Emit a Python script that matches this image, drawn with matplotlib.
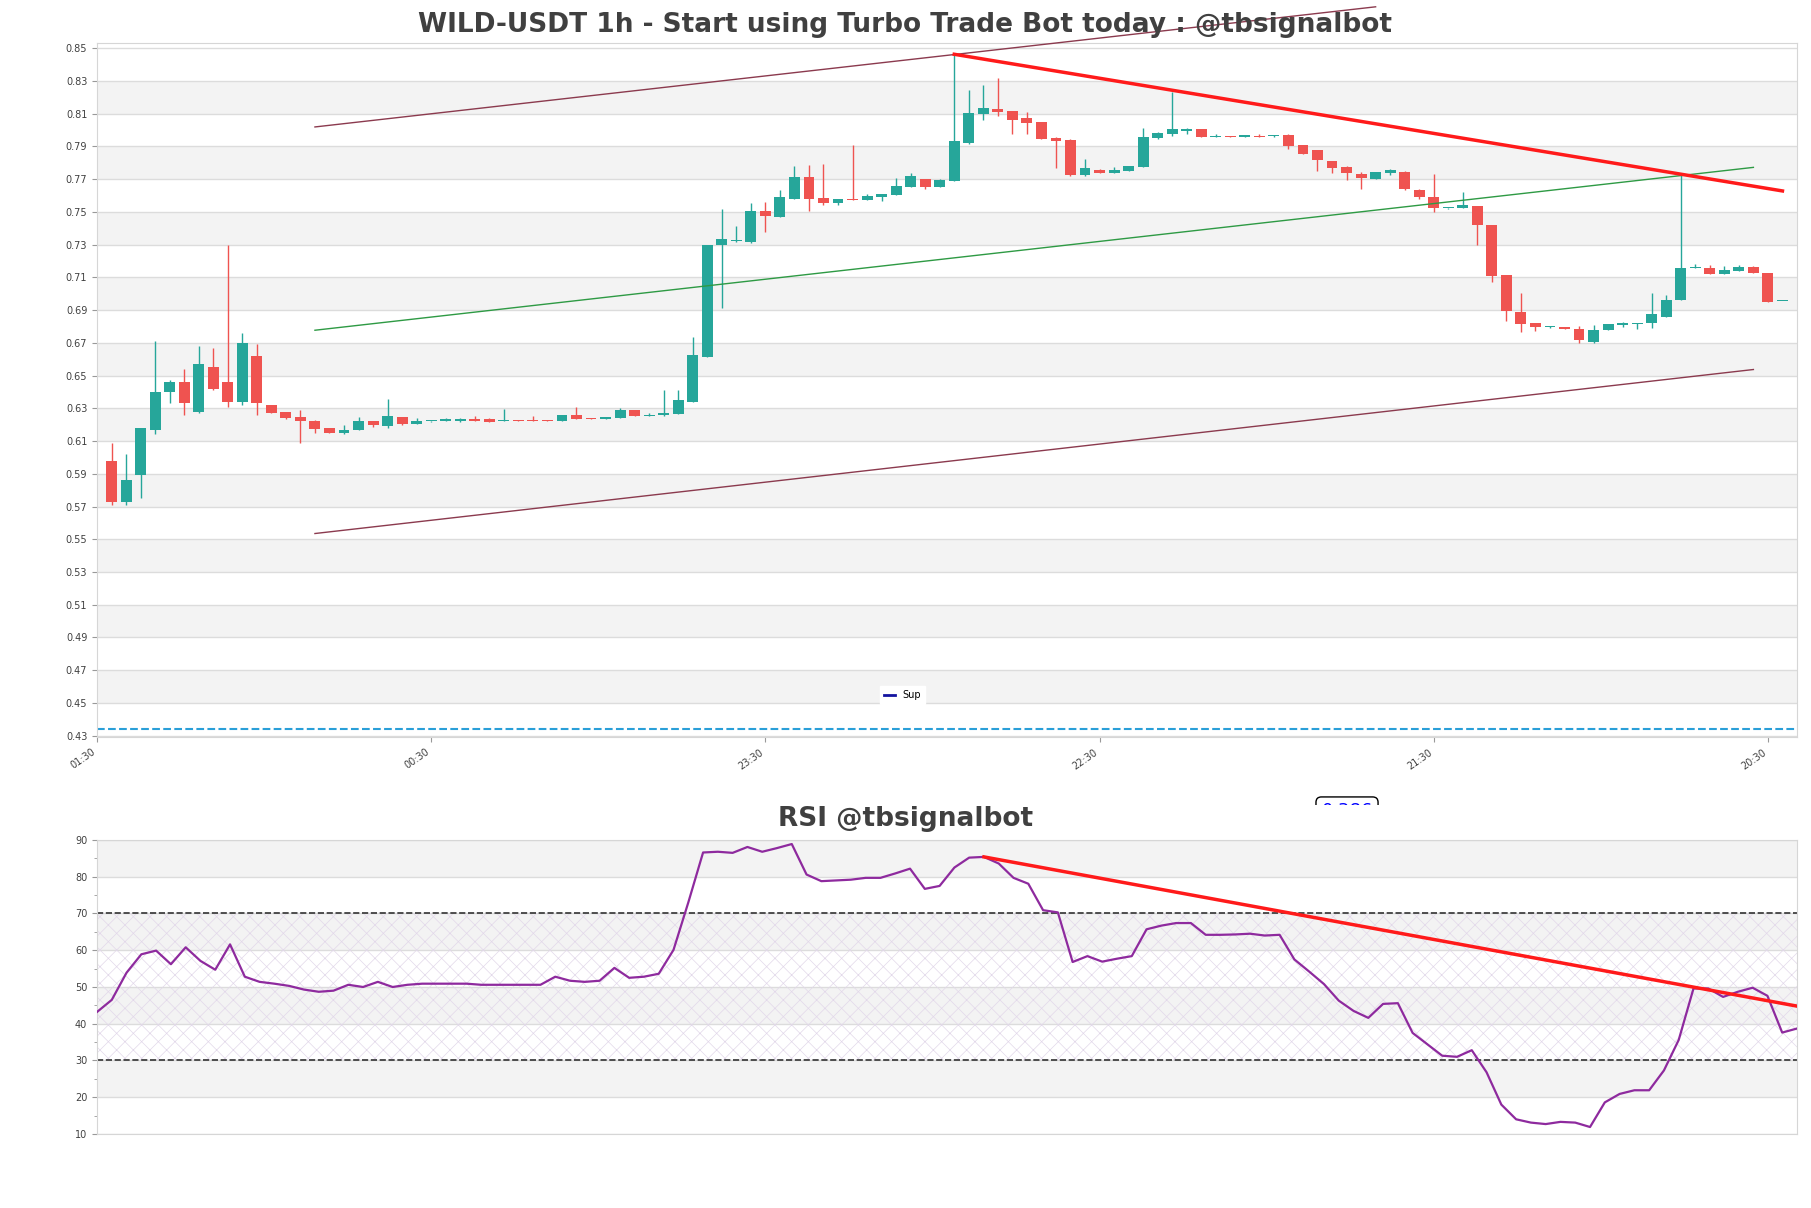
import numpy as np
import matplotlib.pyplot as plt
from matplotlib.transforms import Bbox, TransformedBbox

# 1h candles, oldest first
opens = [0.598, 0.573, 0.589, 0.617, 0.640, 0.646, 0.6275, 0.655, 0.646, 0.634,
         0.662, 0.632, 0.6275, 0.6245, 0.6225, 0.618, 0.615, 0.6165, 0.622, 0.619,
         0.6245, 0.6205, 0.622, 0.6222, 0.6224, 0.6232, 0.6232, 0.622, 0.6226, 0.6226,
         0.6229, 0.6225, 0.626, 0.6241, 0.6237, 0.6241, 0.6292, 0.6254, 0.626, 0.6266,
         0.6341, 0.6616, 0.7299, 0.7324, 0.7318, 0.7505, 0.7468, 0.758, 0.7714, 0.7582,
         0.7555, 0.7578, 0.7574, 0.7594, 0.7604, 0.7655, 0.770, 0.7653, 0.769, 0.792,
         0.8099, 0.8127, 0.8115, 0.8072, 0.8048, 0.7952, 0.7938, 0.7726, 0.7759, 0.7737,
         0.7751, 0.7775, 0.7952, 0.7975, 0.7995, 0.8005, 0.7958, 0.7966, 0.7958, 0.7962,
         0.7962, 0.7968, 0.7907, 0.7877, 0.781, 0.7775, 0.7732, 0.7702, 0.7737, 0.7745,
         0.7635, 0.7592, 0.7521, 0.7521, 0.7537, 0.7421, 0.7116, 0.689, 0.6819, 0.6795,
         0.6799, 0.6787, 0.6703, 0.6777, 0.6811, 0.6813, 0.6819, 0.6856, 0.696, 0.7159,
         0.7159, 0.7118, 0.7139, 0.7165, 0.7128, 0.6955]
highs = [0.609, 0.602, 0.618, 0.671, 0.647, 0.654, 0.668, 0.667, 0.730, 0.676,
         0.669, 0.632, 0.6275, 0.629, 0.623, 0.618, 0.620, 0.6245, 0.622, 0.6355,
         0.6245, 0.624, 0.6225, 0.6239, 0.6241, 0.6255, 0.6239, 0.6293, 0.6226, 0.6251,
         0.6229, 0.626, 0.631, 0.6241, 0.6247, 0.6302, 0.6292, 0.6272, 0.6412, 0.6412,
         0.6734, 0.730, 0.7517, 0.7413, 0.7553, 0.756, 0.7633, 0.7779, 0.7785, 0.7791,
         0.7578, 0.7907, 0.7608, 0.761, 0.7708, 0.7735, 0.770, 0.770, 0.8463, 0.8245,
         0.8274, 0.8316, 0.8115, 0.8111, 0.805, 0.7958, 0.7948, 0.7822, 0.7765, 0.7773,
         0.7779, 0.8011, 0.7991, 0.8235, 0.8015, 0.8005, 0.7975, 0.7966, 0.7968, 0.7974,
         0.7968, 0.7974, 0.7907, 0.7877, 0.781, 0.7781, 0.7742, 0.7746, 0.7761, 0.7749,
         0.7641, 0.7733, 0.7525, 0.7621, 0.7537, 0.7421, 0.7116, 0.7004, 0.6819, 0.6805,
         0.6799, 0.6805, 0.6807, 0.6813, 0.6825, 0.6823, 0.7004, 0.699, 0.7731, 0.7183,
         0.7177, 0.7171, 0.7175, 0.7171, 0.7128, 0.6955]
lows = [0.571, 0.571, 0.5755, 0.614, 0.633, 0.626, 0.627, 0.641, 0.631, 0.632,
        0.626, 0.627, 0.6235, 0.609, 0.615, 0.615, 0.6145, 0.6165, 0.6185, 0.618,
        0.620, 0.6205, 0.6215, 0.6222, 0.6216, 0.622, 0.6216, 0.622, 0.622, 0.622,
        0.6222, 0.6222, 0.6235, 0.6237, 0.6237, 0.6241, 0.6254, 0.6254, 0.6256, 0.6266,
        0.6341, 0.6616, 0.6911, 0.7318, 0.7310, 0.7379, 0.7468, 0.758, 0.7507, 0.7543,
        0.7543, 0.7572, 0.7574, 0.7568, 0.7604, 0.7655, 0.7639, 0.7653, 0.769, 0.7912,
        0.8062, 0.8086, 0.7975, 0.7975, 0.7946, 0.7769, 0.7722, 0.7722, 0.7739, 0.7737,
        0.7751, 0.7775, 0.7948, 0.7964, 0.7977, 0.7958, 0.7958, 0.7958, 0.7958, 0.7958,
        0.7956, 0.7883, 0.7855, 0.7751, 0.7739, 0.7696, 0.7639, 0.7698, 0.7727, 0.7633,
        0.7578, 0.7499, 0.7519, 0.7521, 0.7295, 0.7069, 0.6831, 0.6764, 0.677, 0.6791,
        0.6783, 0.6697, 0.6699, 0.6777, 0.6797, 0.6783, 0.6789, 0.6856, 0.696, 0.7159,
        0.7118, 0.7118, 0.7139, 0.7124, 0.6947, 0.6955]
closes = [0.573, 0.586, 0.618, 0.640, 0.646, 0.633, 0.657, 0.642, 0.634, 0.670,
          0.633, 0.627, 0.624, 0.622, 0.6175, 0.615, 0.617, 0.622, 0.620, 0.625,
          0.6205, 0.6225, 0.6225, 0.6232, 0.6232, 0.622, 0.6216, 0.6226, 0.622, 0.622,
          0.6225, 0.626, 0.6235, 0.6237, 0.6247, 0.629, 0.6254, 0.626, 0.627, 0.6351,
          0.6626, 0.7297, 0.7334, 0.733, 0.7505, 0.7476, 0.759, 0.7714, 0.758, 0.7555,
          0.7576, 0.7572, 0.7596, 0.761, 0.7657, 0.7718, 0.7653, 0.7694, 0.7932, 0.8103,
          0.8133, 0.8111, 0.8062, 0.8042, 0.7946, 0.7934, 0.7724, 0.7767, 0.7739, 0.7759,
          0.7779, 0.7956, 0.7979, 0.8005, 0.8005, 0.7958, 0.7962, 0.7958, 0.7968, 0.7958,
          0.7968, 0.7903, 0.7855, 0.7818, 0.7771, 0.7739, 0.771, 0.7746, 0.7757, 0.7637,
          0.7588, 0.7521, 0.7525, 0.7543, 0.7417, 0.711, 0.6892, 0.6815, 0.6797, 0.6799,
          0.6783, 0.6715, 0.6781, 0.6813, 0.6819, 0.6823, 0.6874, 0.6964, 0.7159, 0.7161,
          0.7118, 0.7147, 0.7165, 0.7124, 0.6947, 0.6955]

rsi = [43.2, 46.5, 53.9, 58.9, 59.9, 56.2, 60.8, 57.1, 54.7, 61.6,
       52.8, 51.4, 50.9, 50.3, 49.3, 48.7, 49.0, 50.6, 50.0, 51.4,
       50.0, 50.6, 50.9, 50.9, 50.9, 50.9, 50.6, 50.6, 50.6, 50.6,
       50.6, 52.8, 51.7, 51.4, 51.7, 55.2, 52.5, 52.8, 53.6, 60.1,
       73.0, 86.6, 86.8, 86.5, 88.1, 86.8, 87.8, 88.9, 80.6, 78.8,
       79.0, 79.2, 79.7, 79.7, 80.9, 82.2, 76.7, 77.5, 82.5, 85.2,
       85.4, 83.6, 79.7, 78.1, 70.9, 70.3, 56.8, 58.4, 56.9, 57.7,
       58.4, 65.7, 66.7, 67.4, 67.4, 64.2, 64.2, 64.3, 64.5, 64.0,
       64.2, 57.5, 54.2, 50.8, 46.3, 43.5, 41.6, 45.4, 45.6, 37.5,
       34.4, 31.3, 31.0, 32.8, 26.8, 18.0, 14.0, 13.1, 12.7, 13.3,
       13.1, 11.9, 18.6, 20.9, 21.9, 21.9, 27.3, 35.6, 49.6, 49.6,
       47.3, 48.7, 49.8, 47.6, 37.6, 38.7]

time_labels = ['01:30', '00:30', '23:30', '22:30', '21:30', '20:30']
sup_level = 0.4342
channel_top_x = [15, 88]
channel_top = [0.8019, 0.8753]
channel_x = [15, 114]
channel_mid = [0.6777, 0.7772]
channel_bot = [0.5535, 0.6537]
trend_x = [59, 116]
trend_y = [0.8463, 0.7628]
rsi_trend_x = [60, 115]
rsi_trend_y = [85.4, 44.8]
label_value = '0.386'

GREEN = '#26a69a'
RED = '#ef5350'
BAND = '#f3f3f3'
TXT = '#404040'

fig = plt.figure(figsize=(18.11, 12.08), dpi=100)
ax = fig.add_axes([0.05356, 0.38965, 0.9387, 0.5745])
ax2 = fig.add_axes([0.05356, 0.06126, 0.9387, 0.24338])

# ---- price panel
o = np.array(opens); h = np.array(highs); l = np.array(lows); c = np.array(closes)
x = np.arange(1, len(o) + 1)
cols = np.where(c >= o, GREEN, RED)
for y0 in np.arange(0.45, 0.84, 0.04):
    ax.axhspan(y0, y0 + 0.02, color=BAND, zorder=0, lw=0)
ax.vlines(x, l, h, colors=cols, lw=1.0, zorder=3)
body = np.maximum(np.abs(c - o), 0.0006)
ax.bar(x, body, 0.75, bottom=np.minimum(o, c), color=cols, zorder=4, lw=0)

ax.axhline(sup_level, color='#2a9fd8', ls='--', lw=1.5, zorder=2)
ax.plot([], [], color='#1414a0', lw=2, label='Sup')
ax.plot(channel_top_x, channel_top, color='#8b3a4e', lw=1, clip_on=False, zorder=5)
ax.plot(channel_x, channel_mid, color='#2e9a44', lw=1, clip_on=False, zorder=5)
ax.plot(channel_x, channel_bot, color='#8b3a4e', lw=1, clip_on=False, zorder=5)
ax.plot(trend_x, trend_y, color='#ff1a1a', lw=2.5, zorder=6)

ax.set_xlim(0, len(o) + 1)
ax.set_ylim(0.429, 0.853)
ax.set_yticks(np.arange(0.43, 0.8501, 0.02))
ax.yaxis.set_major_formatter(plt.FormatStrFormatter('%.2f'))
ax.set_xticks(np.arange(0, len(o), 23))
ax.set_xticklabels(time_labels, rotation=35, ha='right')
ax.grid(axis='y', color='#dcdcdc', lw=1)
ax.set_axisbelow(True)
leg = ax.legend(loc='lower left', bbox_to_anchor=(0.4606, 0.048), fontsize=7,
                handlelength=1.1, borderaxespad=0, framealpha=1, fancybox=False)
leg.get_frame().set_edgecolor('white')

# ---- RSI panel
xr = np.arange(len(rsi))
for y0 in (20, 40, 60, 80):
    ax2.axhspan(y0, y0 + 10, color=BAND, zorder=0, lw=0)
plt.rcParams['hatch.linewidth'] = 0.5
ax2.fill_between([0, len(rsi) - 1], 30, 70, facecolor='none', hatch='xx',
                 edgecolor='#e2d8ea', lw=0, zorder=1)
ax2.axhline(70, color='#333333', ls='--', lw=1.2, zorder=2)
ax2.axhline(30, color='#333333', ls='--', lw=1.2, zorder=2)
ax2.plot(xr, rsi, color='#8e2a9e', lw=1.6, zorder=4)
ax2.plot(rsi_trend_x, rsi_trend_y, color='#ff1a1a', lw=2.5, zorder=5)
ax2.set_xlim(0, len(rsi) - 1)
ax2.set_ylim(10, 90)
ax2.set_yticks(np.arange(10, 91, 10))
ax2.set_yticks(np.arange(15, 90, 10), minor=True)
ax2.set_xticks([])
ax2.grid(axis='y', color='#dcdcdc', lw=1)
ax2.set_axisbelow(True)

for a in (ax, ax2):
    for s in a.spines.values():
        s.set_color('#d6d6d6')
    a.tick_params(labelsize=7, labelcolor=TXT, color='#999999')
ax2.tick_params(which='minor', color='#999999', length=2)

fig.text(0.5, 0.979, 'WILD-USDT 1h - Start using Turbo Trade Bot today : @tbsignalbot',
         ha='center', va='center', fontsize=19, fontweight='bold', color=TXT)
fig.text(0.5, 0.322, 'RSI @tbsignalbot', ha='center', va='center',
         fontsize=19, fontweight='bold', color=TXT)

tag = fig.text(0.7438, 0.3358, label_value, ha='center', va='top', color='blue',
               fontsize=13, bbox=dict(boxstyle='round,pad=0.3', fc='white', ec='black'))
tag.set_clip_box(TransformedBbox(Bbox([[0, 0.3336], [1, 1]]), fig.transFigure))

fig.savefig('out.png', dpi=100)
